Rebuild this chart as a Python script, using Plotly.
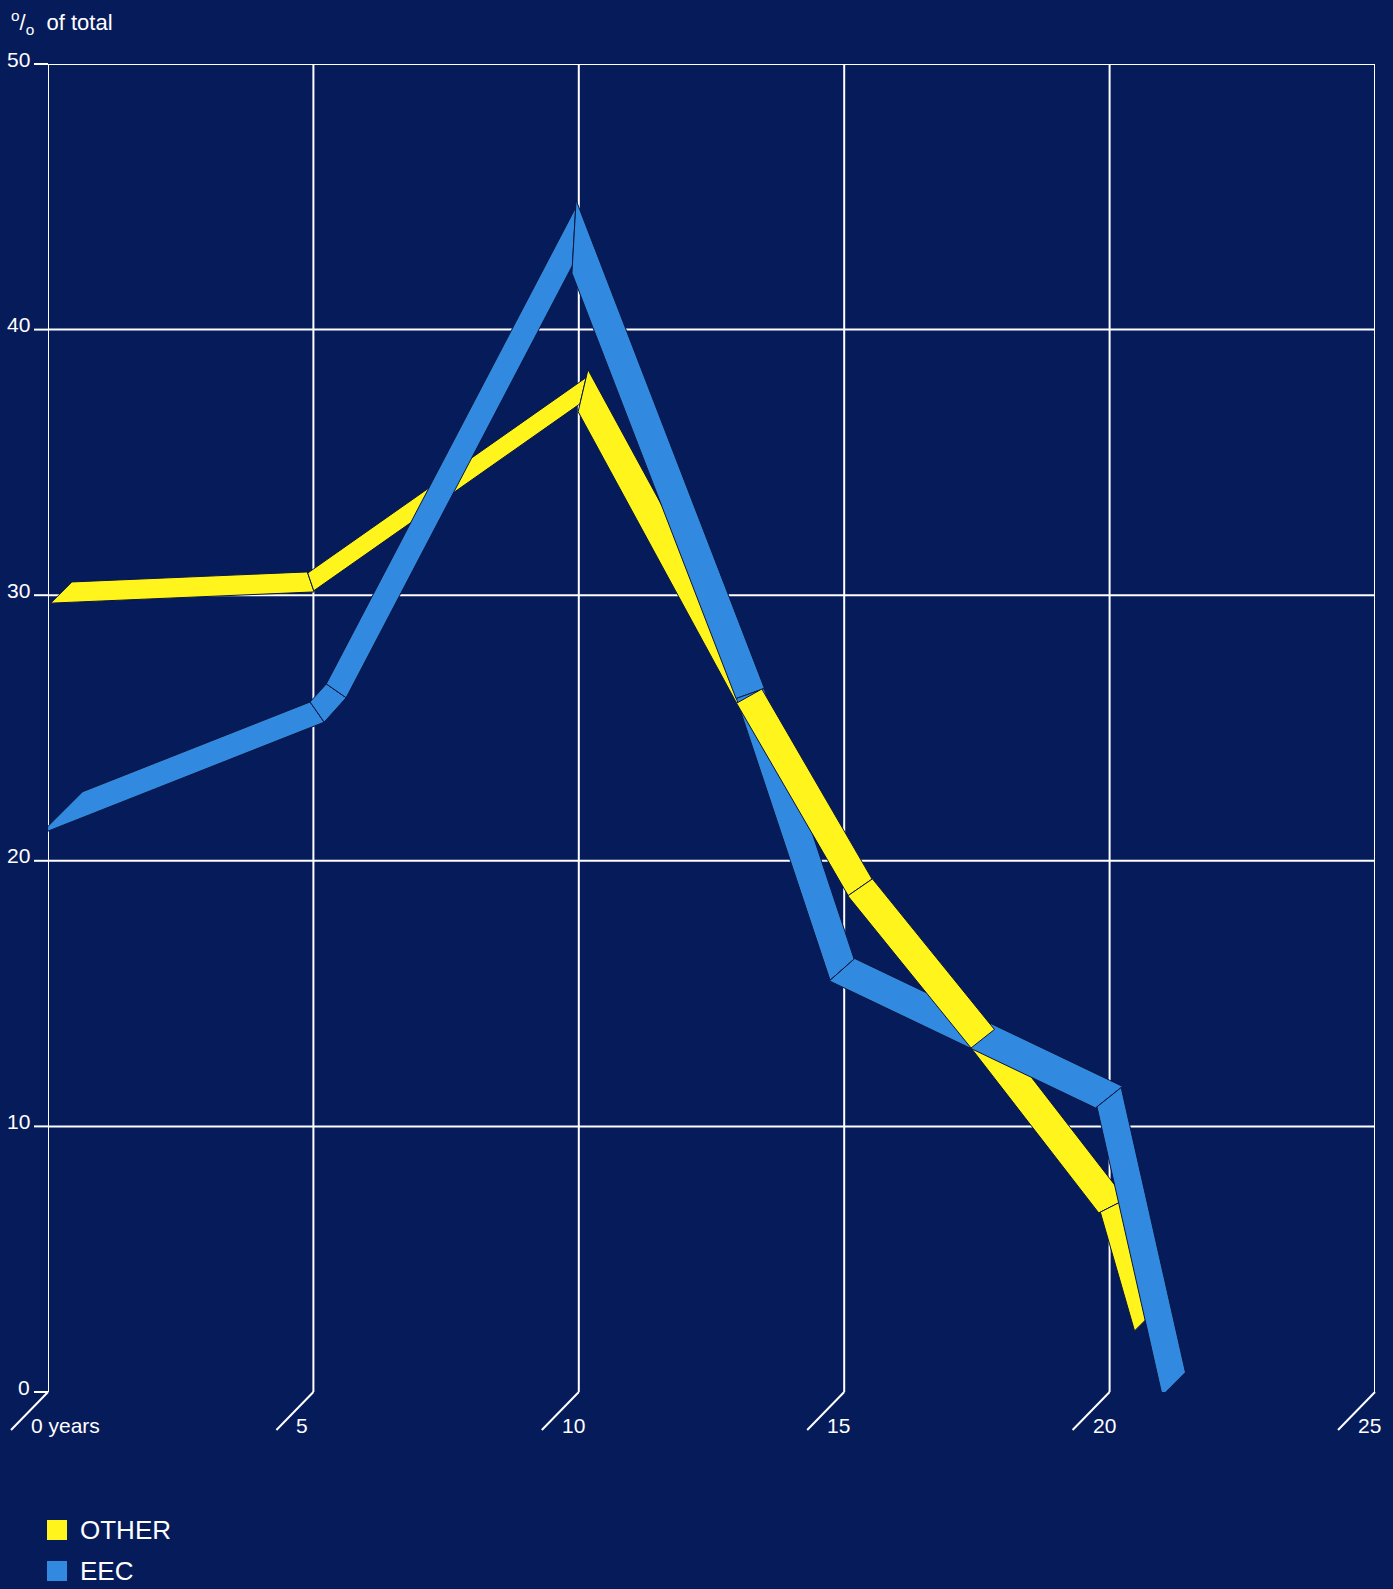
import math
import plotly.graph_objects as go

# Fleet age profile: share of total (%) by age in years
other_years = [0.25, 4.95, 10.08, 13.21, 15.30, 17.61, 20.05, 20.67]
other_share = [30.1, 30.5, 37.7, 26.2, 19.0, 13.3, 7.0, 2.7]

eec_years = [0.25, 5.07, 5.43, 9.91, 13.23, 14.96, 19.99, 21.21]
eec_share = [21.8, 25.6, 26.4, 43.5, 26.3, 15.9, 11.1, 0.3]

x_ticks = [0, 5, 10, 15, 20, 25]
x_tick_text = ["0 years", "5", "10", "15", "20", "25"]
y_ticks = [0, 10, 20, 30, 40, 50]
y_tick_text = ["0", "10", "20", "30", "40", "50"]

series_names = ["OTHER", "EEC"]

# ---- page / style -------------------------------------------------------
W, H = 1393, 1589
M_L, M_R, M_T, M_B = 48, 18, 64, 197
PLOT_W, PLOT_H = W - M_L - M_R, H - M_T - M_B
X_RANGE = (0, 25)
Y_RANGE = (0, 50)
PX_X = PLOT_W / (X_RANGE[1] - X_RANGE[0])
PX_Y = PLOT_H / (Y_RANGE[1] - Y_RANGE[0])

BG = "#061b5a"
EDGE = "#0a1640"
FONT = "Liberation Sans, Arial, Helvetica, sans-serif"
STYLE = {
    "OTHER": dict(color="#fff51c", depth=30.0, min_width=18.0),
    "EEC": dict(color="#3189e0", depth=33.0, min_width=24.0),
}
# which ribbon segment sits in front of which (back to front)
DRAW_ORDER = ([("OTHER", i) for i in (0, 1, 2, 5, 6)]
              + [("EEC", i) for i in range(7)]
              + [("OTHER", i) for i in (3, 4)])

DEPTH_DIR = (math.sqrt(0.5), math.sqrt(0.5))  # receding direction (up-right)


def _norm(v):
    l = math.hypot(v[0], v[1])
    return (v[0] / l, v[1] / l)


def ribbon_segments(xs, ys, depth, min_width):
    """Quads (in data units) for a 3D-looking ribbon along the polyline."""
    pts = [(x * PX_X, y * PX_Y) for x, y in zip(xs, ys)]
    n = len(pts)
    normals, widths = [], []
    for i in range(n - 1):
        u = _norm((pts[i + 1][0] - pts[i][0], pts[i + 1][1] - pts[i][1]))
        normals.append((-u[1], u[0]))
        cross = abs(u[0] * DEPTH_DIR[1] - u[1] * DEPTH_DIR[0])
        widths.append(max(min_width, depth * cross))
    cuts = []
    for j in range(n):
        if j == 0 or j == n - 1:
            cuts.append(DEPTH_DIR)
        else:
            a, b = normals[j - 1], normals[j]
            s = (a[0] + b[0], a[1] + b[1])
            cuts.append(_norm(s) if math.hypot(*s) > 1e-6 else a)
    quads = []
    for i in range(n - 1):
        nrm, t = normals[i], widths[i]
        corners = []
        for j, sign in ((i, 1), (i + 1, 1), (i + 1, -1), (i, -1)):
            k = cuts[j]
            kn = k[0] * nrm[0] + k[1] * nrm[1]
            if abs(kn) < 0.3:
                kn = 0.3 if kn >= 0 else -0.3
            s = sign * t / (2 * kn)
            px, py = pts[j][0] + s * k[0], pts[j][1] + s * k[1]
            corners.append((px / PX_X, py / PX_Y))
        corners.append(corners[0])
        quads.append(corners)
    return quads


data = {
    "OTHER": (other_years, other_share),
    "EEC": (eec_years, eec_share),
}
ribbons = {name: ribbon_segments(*data[name], STYLE[name]["depth"], STYLE[name]["min_width"])
           for name in series_names}

fig = go.Figure()

for name, idx in DRAW_ORDER:
    quad = ribbons[name][idx]
    fig.add_trace(go.Scatter(
        x=[p[0] for p in quad], y=[p[1] for p in quad],
        mode="lines", fill="toself",
        fillcolor=STYLE[name]["color"],
        line=dict(color=EDGE, width=1),
        hoverinfo="skip", showlegend=False, cliponaxis=False,
        name=name,
    ))


def to_paper_x(xv):
    return (xv - X_RANGE[0]) / (X_RANGE[1] - X_RANGE[0])


def to_paper_y(yv):
    return (yv - Y_RANGE[0]) / (Y_RANGE[1] - Y_RANGE[0])


WHITE_LINE = dict(color="white", width=2)
shapes = []
# grid: vertical lines
for xv in x_ticks:
    shapes.append(dict(type="line", xref="x", yref="y", x0=xv, x1=xv,
                       y0=Y_RANGE[0], y1=Y_RANGE[1], layer="below", line=WHITE_LINE))
    # receding tick at the foot of each vertical line
    shapes.append(dict(type="line", xref="paper", yref="paper",
                       xsizemode="pixel", ysizemode="pixel",
                       xanchor=to_paper_x(xv), yanchor=to_paper_y(Y_RANGE[0]),
                       x0=0, y0=0, x1=-37, y1=-38, layer="below", line=WHITE_LINE))
# grid: horizontal lines with short stubs to the left
for yv in y_ticks:
    if yv != Y_RANGE[0]:
        shapes.append(dict(type="line", xref="x", yref="y", x0=X_RANGE[0], x1=X_RANGE[1],
                           y0=yv, y1=yv, layer="below", line=WHITE_LINE))
    shapes.append(dict(type="line", xref="paper", yref="paper", xsizemode="pixel",
                       xanchor=to_paper_x(X_RANGE[0]), x0=-14, x1=0,
                       y0=to_paper_y(yv), y1=to_paper_y(yv), layer="below", line=WHITE_LINE))

annotations = []
for yv, txt in zip(y_ticks, y_tick_text):
    annotations.append(dict(x=X_RANGE[0], y=yv, xref="x", yref="y", text=txt,
                            showarrow=False, xanchor="right", yanchor="middle",
                            xshift=-16, yshift=5,
                            font=dict(family=FONT, size=21, color="white")))
for xv, txt in zip(x_ticks, x_tick_text):
    annotations.append(dict(x=xv, y=Y_RANGE[0], xref="x", yref="y", text=txt,
                            showarrow=False, xanchor="left", yanchor="middle",
                            xshift=-19, yshift=-33,
                            font=dict(family=FONT, size=21, color="white")))
annotations.append(dict(x=X_RANGE[0], y=Y_RANGE[1], xref="x", yref="y",
                        text="<sup>o</sup>/<sub>o</sub>  of total",
                        showarrow=False, xanchor="left", yanchor="middle",
                        xshift=-39, yshift=42,
                        font=dict(family=FONT, size=22, color="white")))

# key below the chart: coloured square + series name
for row, name in enumerate(series_names):
    cy = 1530 + row * 41          # row centre, page pixels from top
    y_paper = (H - M_B - cy) / PLOT_H
    shapes.append(dict(type="rect", xref="paper", yref="paper",
                       xsizemode="pixel", ysizemode="pixel",
                       xanchor=0, yanchor=y_paper,
                       x0=-1, x1=19, y0=-10, y1=10,
                       fillcolor=STYLE[name]["color"], line=dict(width=0)))
    annotations.append(dict(x=0, y=y_paper, xref="paper", yref="paper", text=name,
                            showarrow=False, xanchor="left", yanchor="middle",
                            xshift=30, font=dict(family=FONT, size=26, color="white")))

fig.update_layout(
    width=W, height=H,
    margin=dict(l=M_L, r=M_R, t=M_T, b=M_B, autoexpand=False),
    paper_bgcolor=BG, plot_bgcolor=BG,
    xaxis=dict(range=list(X_RANGE), visible=False, fixedrange=True),
    yaxis=dict(range=list(Y_RANGE), visible=False, fixedrange=True),
    shapes=shapes, annotations=annotations,
    showlegend=False,
)

fig.write_html("out.html")
